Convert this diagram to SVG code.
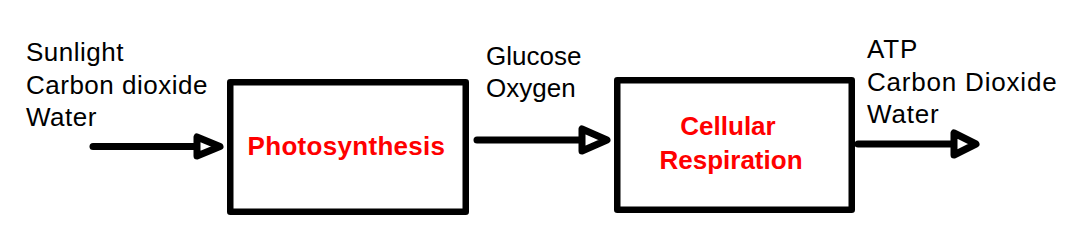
<svg xmlns="http://www.w3.org/2000/svg" width="1079" height="247" viewBox="0 0 1079 247">
<style>
.lbl{font-family:"Liberation Sans",Arial,sans-serif;font-size:26px;fill:#000}
.proc{font-family:"Liberation Sans",Arial,sans-serif;font-size:26px;font-weight:bold;fill:#ff0000;text-anchor:middle}
.box{fill:#fff;stroke:#000;stroke-width:6.5;stroke-linejoin:round}
.line{stroke:#000;stroke-width:7;stroke-linecap:round;fill:none}
.head{fill:#fff;stroke:#000;stroke-width:7;stroke-linejoin:round}
</style>
<rect width="1079" height="247" fill="#fff"/>
<g id="connectors">
<line class="line" x1="93" y1="146.5" x2="198" y2="146.5"/>
<polygon class="head" points="197,137 197,156 220,146.5"/>
<line class="line" x1="477" y1="140" x2="583" y2="140"/>
<polygon class="head" points="582,129 582,151 607,140"/>
<line class="line" x1="858" y1="144" x2="955" y2="144"/>
<polygon class="head" points="954,133 954,155 976,144"/>
</g>
<g id="inputs">
<text class="lbl" x="26" y="61" letter-spacing="0.5">Sunlight</text>
<text class="lbl" x="26" y="93.5" letter-spacing="0.5">Carbon dioxide</text>
<text class="lbl" x="26" y="126" letter-spacing="0.5">Water</text>
</g>
<g id="photosynthesis">
<rect class="box" x="230.25" y="82.25" width="235.5" height="129.5"/>
<text class="proc" x="346.5" y="155" letter-spacing="0.3">Photosynthesis</text>
</g>
<g id="intermediates">
<text class="lbl" x="486" y="64.5">Glucose</text>
<text class="lbl" x="486" y="96.5">Oxygen</text>
</g>
<g id="cellular-respiration">
<rect class="box" x="617.25" y="80.25" width="234.5" height="129.5"/>
<text class="proc" x="728" y="135">Cellular</text>
<text class="proc" x="731" y="169">Respiration</text>
</g>
<g id="outputs">
<text class="lbl" x="867" y="58" letter-spacing="0.8">ATP</text>
<text class="lbl" x="867" y="91" letter-spacing="0.8">Carbon Dioxide</text>
<text class="lbl" x="867" y="123" letter-spacing="0.8">Water</text>
</g>
</svg>
